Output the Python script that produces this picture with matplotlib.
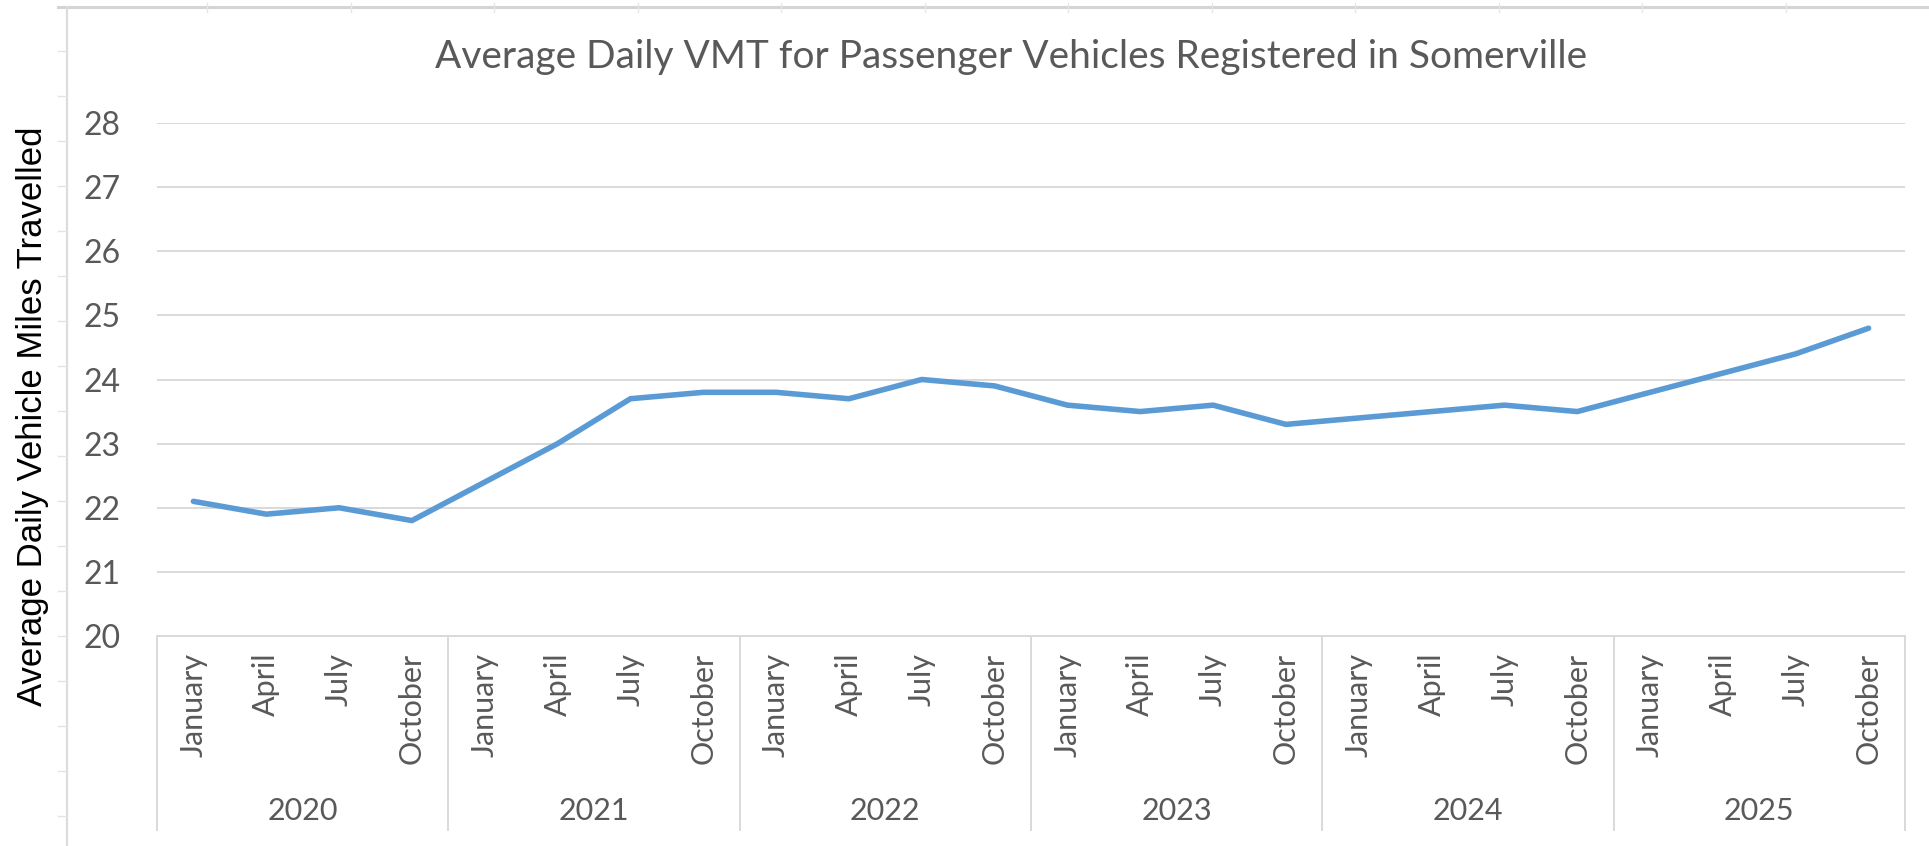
import matplotlib
matplotlib.use("Agg")
import matplotlib.pyplot as plt
from matplotlib.lines import Line2D
import matplotlib.transforms as mtransforms

# ---- data ----
years = ["2020", "2021", "2022", "2023", "2024", "2025"]
months = ["January", "April", "July", "October"]
vmt = [22.1, 21.9, 22.0, 21.8,
       22.4, 23.0, 23.7, 23.8,
       23.8, 23.7, 24.0, 23.9,
       23.6, 23.5, 23.6, 23.3,
       23.4, 23.5, 23.6, 23.5,
       23.8, 24.1, 24.4, 24.8]
y_ticks = [20, 21, 22, 23, 24, 25, 26, 27, 28]
title = "Average Daily VMT for Passenger Vehicles Registered in Somerville"
ylabel = "Average Daily Vehicle Miles Travelled"

# ---- styling ----
W, H, DPI = 1929, 846, 100
TEXT_GRAY = "#595959"
GRID = "#d9d9d9"
LINE = "#5b9bd5"
CAL = ["Lato", "DejaVu Sans"]

fig = plt.figure(figsize=(W / DPI, H / DPI), dpi=DPI)
fig.patch.set_facecolor("white")

# axes in pixel geometry
left_px, right_px, top_px, bottom_px = 157, 1905, 123, 636
ax = fig.add_axes([left_px / W, 1 - bottom_px / H,
                   (right_px - left_px) / W, (bottom_px - top_px) / H])

n = len(years) * len(months)
x = list(range(n))
ax.plot(x, vmt, color=LINE, lw=4.0, solid_joinstyle="round",
        solid_capstyle="round", zorder=3)

ax.set_xlim(-0.5, n - 0.5)
ax.set_ylim(20, 28)
ax.set_yticks(y_ticks)
ax.set_yticklabels([str(v) for v in y_ticks], fontfamily=CAL,
                   fontsize=23, color=TEXT_GRAY)
ax.tick_params(axis="y", length=0, pad=26)

ax.set_xticks(x)
ax.set_xticklabels(months * len(years), rotation=90, fontfamily=CAL,
                   fontsize=22, color=TEXT_GRAY, va="top", ha="center")
ax.tick_params(axis="x", length=0, pad=12)

ax.grid(axis="y", color=GRID, lw=1.4)
ax.set_axisbelow(True)
for s in ["top", "right", "left"]:
    ax.spines[s].set_visible(False)
ax.spines["bottom"].set_color(GRID)
ax.spines["bottom"].set_linewidth(1.4)

# multi-level category axis: year dividers and year labels
trans = mtransforms.blended_transform_factory(ax.transData, ax.transAxes)
ax_h = bottom_px - top_px
div_bottom = (bottom_px - 830) / ax_h
for k in range(len(years) + 1):
    xd = k * len(months) - 0.5
    ax.add_line(Line2D([xd, xd], [0, div_bottom], transform=trans,
                       color=GRID, lw=1.4, clip_on=False))
year_y = (bottom_px - 811) / ax_h
for k, yr in enumerate(years):
    ax.text(k * len(months) + (len(months) - 1) / 2, year_y, yr,
            transform=trans, ha="center", va="center",
            fontfamily=CAL, fontsize=22, color=TEXT_GRAY)

# title
fig.text(1011 / W, 1 - 57 / H, title, ha="center", va="center",
         fontfamily=CAL, fontsize=28, color=TEXT_GRAY)

# y label (Arial-like)
fig.text(33 / W, 1 - 416 / H, ylabel, rotation=90, ha="center",
         va="center", fontfamily=["Liberation Sans", "DejaVu Sans"],
         fontsize=25, color="black")

# chart-area border & faint spreadsheet grid marks
def fl(x0, y0, x1, y1, **kw):
    fig.add_artist(Line2D([x0 / W, x1 / W], [1 - y0 / H, 1 - y1 / H],
                          transform=fig.transFigure, **kw))

fl(58, 7, W, 7, color="#d4d4d4", lw=2.2)
fl(67, 7, 67, H, color="#dcdcdc", lw=1.6)
for k in range(18):
    yy = 51 + 45 * k
    fl(58, yy, 67, yy, color="#e3e3e3", lw=1.0)
for k in range(13):
    xx = 207 + 143.5 * k
    if xx < W:
        fl(xx, 3, xx, 12, color="#e6e6e6", lw=1.0)

fig.savefig("out.png", dpi=DPI, facecolor="white")
